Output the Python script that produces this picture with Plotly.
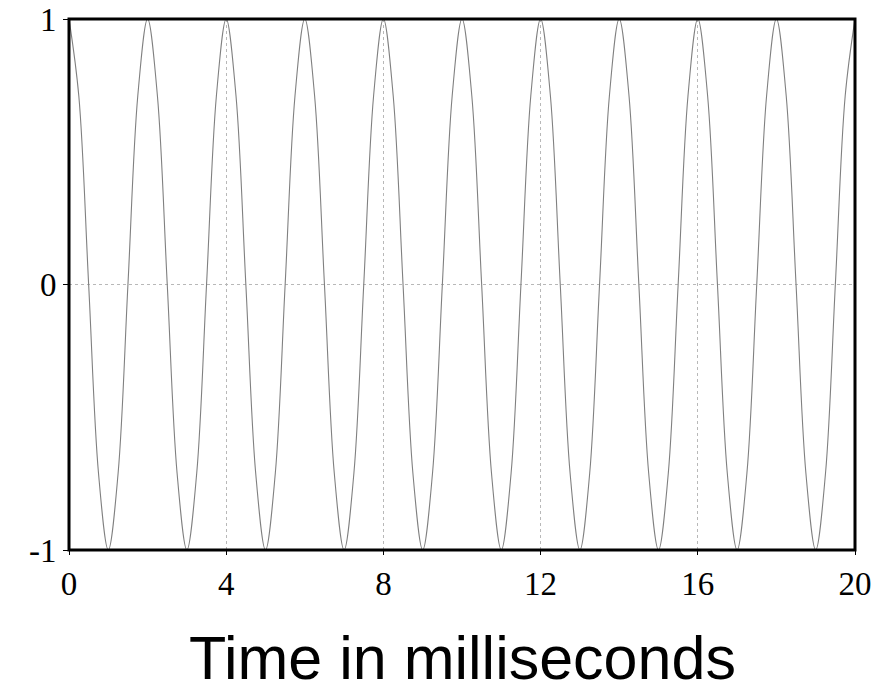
import plotly.graph_objects as go

# Time samples (ms) and signal values (cosine, period 2 ms)
time_ms = [
    0.0, 0.25, 0.5, 0.75, 1.0, 1.25, 1.5, 1.75,
    2.0, 2.25, 2.5, 2.75, 3.0, 3.25, 3.5, 3.75,
    4.0, 4.25, 4.5, 4.75, 5.0, 5.25, 5.5, 5.75,
    6.0, 6.25, 6.5, 6.75, 7.0, 7.25, 7.5, 7.75,
    8.0, 8.25, 8.5, 8.75, 9.0, 9.25, 9.5, 9.75,
    10.0, 10.25, 10.5, 10.75, 11.0, 11.25, 11.5, 11.75,
    12.0, 12.25, 12.5, 12.75, 13.0, 13.25, 13.5, 13.75,
    14.0, 14.25, 14.5, 14.75, 15.0, 15.25, 15.5, 15.75,
    16.0, 16.25, 16.5, 16.75, 17.0, 17.25, 17.5, 17.75,
    18.0, 18.25, 18.5, 18.75, 19.0, 19.25, 19.5, 19.75,
    20.0,
]
amplitude = [
    1, 0.71, 0, -0.71, -1, -0.71, 0, 0.71,
    1, 0.71, 0, -0.71, -1, -0.71, 0, 0.71,
    1, 0.71, 0, -0.71, -1, -0.71, 0, 0.71,
    1, 0.71, 0, -0.71, -1, -0.71, 0, 0.71,
    1, 0.71, 0, -0.71, -1, -0.71, 0, 0.71,
    1, 0.71, 0, -0.71, -1, -0.71, 0, 0.71,
    1, 0.71, 0, -0.71, -1, -0.71, 0, 0.71,
    1, 0.71, 0, -0.71, -1, -0.71, 0, 0.71,
    1, 0.71, 0, -0.71, -1, -0.71, 0, 0.71,
    1, 0.71, 0, -0.71, -1, -0.71, 0, 0.71,
    1,
]
x_ticks = [0, 4, 8, 12, 16, 20]
y_ticks = [-1, 0, 1]
x_title = "Time in milliseconds"

tick_font = dict(family="Liberation Serif, Times New Roman, serif", size=33, color="black")

fig = go.Figure()
fig.add_trace(go.Scatter(
    x=time_ms, y=amplitude, mode="lines",
    line=dict(color="#808080", width=1.1, shape="spline", smoothing=1.0),
    hoverinfo="skip", showlegend=False,
))

fig.update_layout(
    width=876, height=694,
    margin=dict(l=69, r=21, t=19, b=144),
    paper_bgcolor="white", plot_bgcolor="white",
    xaxis=dict(
        range=[0, 20], tickvals=x_ticks, ticktext=[str(v) for v in x_ticks],
        showgrid=True, gridcolor="#b8b8b8", griddash="dot", gridwidth=1,
        zeroline=False, showline=False, automargin=False,
        ticks="outside", ticklen=4, tickcolor="black",
        tickfont=tick_font,
    ),
    yaxis=dict(
        range=[-1, 1], tickvals=y_ticks, ticktext=[str(v) for v in y_ticks],
        showgrid=True, gridcolor="#b8b8b8", griddash="dot", gridwidth=1,
        zeroline=False, showline=False, automargin=False,
        ticks="outside", ticklen=5, tickcolor="black",
        tickfont=tick_font,
    ),
    shapes=[dict(
        type="rect", xref="paper", yref="paper", x0=0, x1=1, y0=0, y1=1,
        line=dict(color="black", width=3), layer="above",
    )],
    annotations=[dict(
        text=x_title, xref="paper", yref="paper", x=0.5, y=0,
        yshift=-108, yanchor="middle", showarrow=False,
        font=dict(family="Liberation Sans, Arial, sans-serif", size=61, color="black"),
    )],
)

fig.write_html("out.html")
